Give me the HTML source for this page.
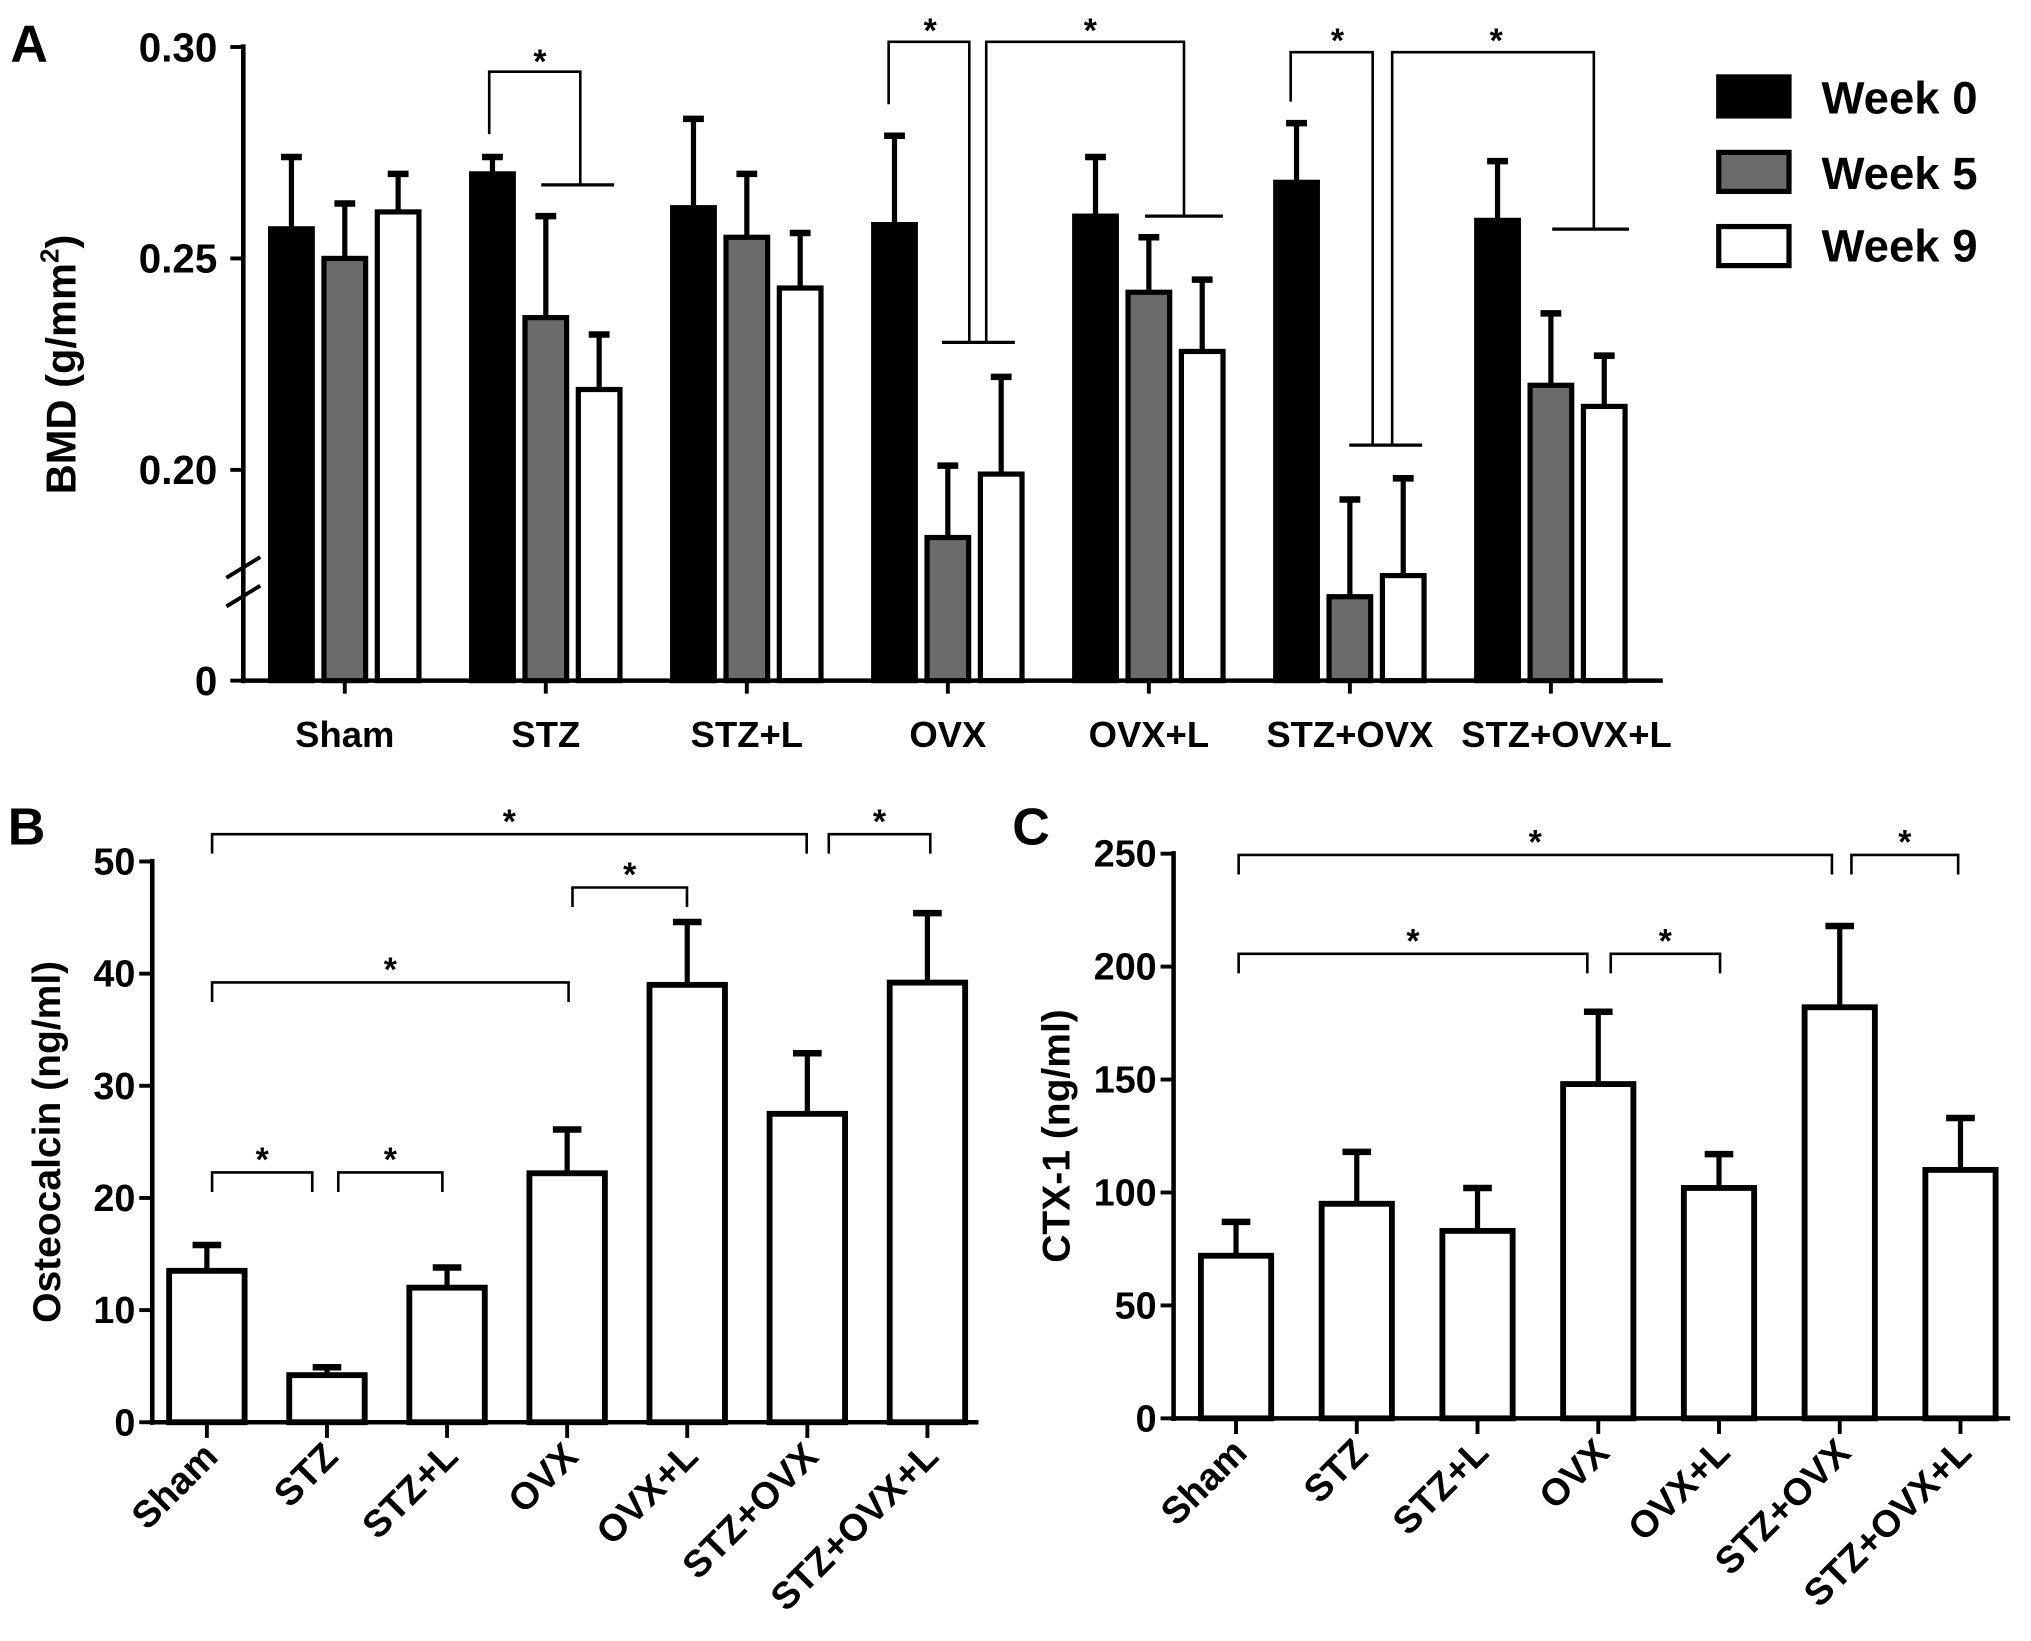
<!DOCTYPE html>
<html><head><meta charset="utf-8"><style>
html,body{margin:0;padding:0;background:#fff}
svg{display:block}
text{font-family:"Liberation Sans",Arial,sans-serif;font-weight:bold;fill:#000}
</style></head><body>
<svg id="fig" width="2031" height="1641" viewBox="0 0 1561 1261" xmlns="http://www.w3.org/2000/svg">
<text x="8" y="47" font-size="40">A</text>
<text x="6" y="649" font-size="40">B</text>
<text x="778" y="649" font-size="40">C</text>
<g>
<rect x="1321" y="59" width="54" height="30" fill="#000" stroke="#000" stroke-width="4"/>
<text x="1400" y="87" font-size="35">Week 0</text>
<rect x="1321" y="117" width="54" height="30" fill="#6b6b6b" stroke="#000" stroke-width="4"/>
<text x="1400" y="145" font-size="35">Week 5</text>
<rect x="1321" y="174" width="54" height="30" fill="#fff" stroke="#000" stroke-width="4"/>
<text x="1400" y="201" font-size="35">Week 9</text>
</g>
</svg>
<script>
const groups = ["Sham","STZ","STZ+L","OVX","OVX+L","STZ+OVX","STZ+OVX+L"];
const bmdWeek0 = [0.257,0.270,0.262,0.258,0.260,0.268,0.259];
const bmdWeek0Err = [0.017,0.004,0.021,0.021,0.014,0.014,0.014];
const bmdWeek5 = [0.250,0.236,0.255,0.184,0.242,0.170,0.220];
const bmdWeek5Err = [0.013,0.024,0.015,0.017,0.013,0.023,0.017];
const bmdWeek9 = [0.261,0.219,0.243,0.199,0.228,0.175,0.215];
const bmdWeek9Err = [0.009,0.013,0.013,0.023,0.017,0.023,0.012];
const bmdTicks = ["0.30","0.25","0.20"];
const bmdTickVals = [0.30,0.25,0.20];
const ocValues = [13.5,4.2,12.0,22.2,39.0,27.5,39.2];
const ocErr = [2.3,0.7,1.8,3.9,5.6,5.4,6.2];
const ocTicks = [0,10,20,30,40,50];
const ctxValues = [72,95,83,148,102,182,110];
const ctxErr = [15,23,19,32,15,36,23];
const ctxTicks = [0,50,100,150,200,250];

const svg = document.getElementById('fig');
const NS = 'http://www.w3.org/2000/svg';
function mk(tag, attrs, parent){const e=document.createElementNS(NS,tag);for(const k in attrs)e.setAttribute(k,attrs[k]);(parent||svg).appendChild(e);return e;}
function line(x1,y1,x2,y2,w,p){return mk('line',{x1,y1,x2,y2,stroke:'#000','stroke-width':w||3},p);}
function txt(x,y,s,size,anchor,p,extra){const t=mk('text',Object.assign({x,y,'font-size':size,'text-anchor':anchor||'start'},extra||{}),p);t.textContent=s;return t;}

// Panel A
const aY = v => 361 - (v-0.20)*3250;
const aBase = 523, aAxisX = 187;
const aX = i => 265 + i*154.5;
const gA = mk('g',{});


const seriesA = [[bmdWeek0,bmdWeek0Err,'#000',-41],[bmdWeek5,bmdWeek5Err,'#6b6b6b',0],[bmdWeek9,bmdWeek9Err,'#fff',41]];
seriesA.forEach((s,si)=>{
  s[0].forEach((v,i)=>{
    const cx = aX(i)+s[3], top=aY(v), et=aY(v+s[1][i]);
    const eb = line(cx,top,cx,et,4,gA);
    
    
    line(cx-8,et,cx+8,et,5,gA);
    const r = mk('rect',{x:cx-16,y:top,width:32,height:aBase-top,fill:s[2],stroke:'#000','stroke-width':4},gA);
    
    
  });
});
line(aAxisX,34,aAxisX,aBase+2,3.5,gA);
line(aAxisX-2,aBase,1278,aBase,3.5,gA);
bmdTickVals.forEach((v,i)=>{line(aAxisX-10,aY(v),aAxisX,aY(v),3,gA);const t=txt(167,aY(v)+11,bmdTicks[i],31,'end',gA);});
line(aAxisX-10,aBase,aAxisX,aBase,3,gA);
txt(167,aBase+11,'0',31,'end',gA);
line(174,444,200,428,3,gA);line(174,466,200,450,3,gA);
groups.forEach((g,i)=>{line(aX(i),aBase,aX(i),aBase+10,3,gA);const t=txt(aX(i)+(i===6?12:0),574,g,28,'middle',gA);});
const ta = txt(0,0,'BMD (g/mm',32,'middle',gA,{transform:'translate(58,280) rotate(-90)'});
const sup = mk('tspan',{'font-size':20,dy:-13},ta); sup.textContent='2';
const cl = mk('tspan',{dy:13},ta); cl.textContent=')';


function bracketA(pts,tx1,tx2,ty,sx,sy){mk('polyline',{points:pts,fill:'none',stroke:'#000','stroke-width':2},gA);line(tx1,ty,tx2,ty,2.5,gA);txt(sx,sy,'*',26,'middle',gA);}
bracketA('376,103 376,55 446,55 446,142',416,472,142,415,56);
bracketA('683,80 683,32 745,32 745,263',724,780,263,715,32);
bracketA('758,263 758,32 910,32 910,166',880,940,166,838,32);
bracketA('992,78 992,40 1055,40 1055,342',1037,1093,342,1028,40);
bracketA('1070,342 1070,40 1225,40 1225,176',1193,1252,176,1150,40);

function barPanel(name,vals,errs,ticks,tmax,axisX,yTop,yBase,x0,dx,bw,rightEnd,title,titleX,brackets){
  const g = mk('g',{});
  
  
  const y = v => yBase - v/tmax*(yBase-yTop);
  const x = i => x0 + i*dx;
  vals.forEach((v,i)=>{
    const et=y(v+errs[i]);
    line(x(i),y(v),x(i),et,4,g);
    line(x(i)-11,et,x(i)+11,et,5,g);
    const r=mk('rect',{x:x(i)-bw/2,y:y(v),width:bw,height:yBase-y(v),fill:'#fff',stroke:'#000','stroke-width':4.5},g);
    
    
  });
  line(axisX,yTop-2,axisX,yBase+2,3.5,g);
  line(axisX-2,yBase,rightEnd,yBase,3.5,g);
  ticks.forEach(t=>{line(axisX-10,y(t),axisX,y(t),3,g);const l=txt(axisX-13,y(t)+10,String(t),29,'end',g);});
  groups.forEach((gr,i)=>{line(x(i),yBase,x(i),yBase+12,3,g);const l=txt(x(i)+10,yBase+28,gr,29,'end',g,{transform:`rotate(-45 ${x(i)+10} ${yBase+28})`});});
  const tt=txt(0,0,title,30,'middle',g,{transform:`translate(${titleX},${(yTop+yBase)/2}) rotate(-90)`});
  
  
  brackets.forEach(b=>{mk('polyline',{points:`${b[0]},${b[2]+15} ${b[0]},${b[2]} ${b[1]},${b[2]} ${b[1]},${b[2]+15}`,fill:'none',stroke:'#000','stroke-width':2},g);txt((b[0]+b[1])/2,b[2]-1,'*',26,'middle',g);});
}
barPanel('panel-b-osteocalcin-chart',ocValues,ocErr,ocTicks,50,117,662,1093,159,92.3,58,752,'Osteocalcin (ng/ml)',46,
  [[163,620,641],[637,715,641],[440,528,682],[163,437,755],[163,240,901],[260,340,901]]);
barPanel('panel-c-ctx1-chart',ctxValues,ctxErr,ctxTicks,250,902,656,1090,950,92.8,54,1545,'CTX-1 (ng/ml)',822,
  [[952,1408,657],[1423,1505,657],[952,1220,733],[1238,1322,733]]);
</script>
</body></html>
